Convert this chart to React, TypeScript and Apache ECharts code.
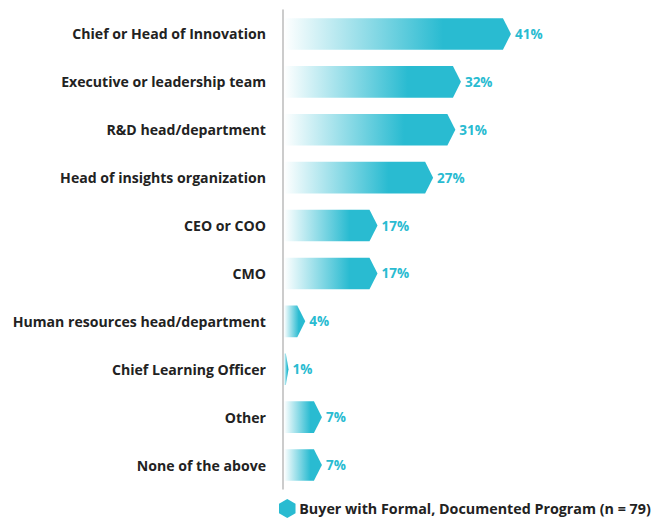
import React, { useEffect, useRef } from "react";
import * as echarts from "echarts";

const categories = [
  "Chief or Head of Innovation",
  "Executive or leadership team",
  "R&D head/department",
  "Head of insights organization",
  "CEO or COO",
  "CMO",
  "Human resources head/department",
  "Chief Learning Officer",
  "Other",
  "None of the above",
];
const values = [41, 32, 31, 27, 17, 17, 4, 1, 7, 7];
const seriesName = "Buyer with Formal, Documented Program (n = 79)";

const TEAL = "#29BBD1";
const FONT = "'Open Sans', Lato, sans-serif";

export default function App() {
  const ref = useRef<HTMLDivElement>(null);
  useEffect(() => {
    if (!ref.current) return;
    const chart = echarts.init(ref.current, undefined, { renderer: "svg" });
    const data = values.map((v, i) => [v, i]);
    chart.setOption({
      animation: false,
      textStyle: { fontFamily: FONT },
      grid: { left: 283, right: 94, top: 10, bottom: 29, containLabel: false },
      xAxis: {
        type: "value",
        min: 0,
        max: 50,
        show: false,
      },
      yAxis: {
        type: "category",
        data: categories,
        inverse: true,
        axisLine: { show: true, lineStyle: { color: "#bbbbbb", width: 1.5 } },
        axisTick: { show: false },
        axisLabel: {
          color: "#222222",
          fontWeight: "bold",
          fontSize: 14.1,
          fontFamily: FONT,
          margin: 17,
        },
      },
      legend: {
        top: 499,
        left: 279,
        padding: 0,
        itemWidth: 18,
        itemHeight: 19,
        itemGap: 4,
        data: [
          {
            name: seriesName,
            icon: "path://M5,0 L10,2.9 L10,8.6 L5,11.5 L0,8.6 L0,2.9 Z",
          },
        ],
        textStyle: {
          color: "#222222",
          fontWeight: "bold",
          fontSize: 14.3,
          fontFamily: FONT,
          padding: [0, 0, 0, -2],
        },
      },
      series: [
        {
          type: "custom",
          name: seriesName,
          itemStyle: { color: TEAL },
          encode: { x: 0, y: 1 },
          data,
          renderItem: (params: any, api: any) => {
            const v = api.value(0);
            const idx = api.value(1);
            const s = api.coord([0, idx]);
            const e = api.coord([v, idx]);
            const h = api.size([0, 1])[1] * 0.66;
            const x0 = s[0] + 1;
            const x1 = e[0];
            const y = s[1];
            const w = x1 - x0;
            const tip = Math.min(8, w * 0.6);
            const pts = [
              [x0, y - h / 2],
              [x1 - tip, y - h / 2],
              [x1, y],
              [x1 - tip, y + h / 2],
              [x0, y + h / 2],
            ];
            return {
              type: "group",
              children: [
                {
                  type: "polygon",
                  shape: { points: pts },
                  style: {
                    fill: new echarts.graphic.LinearGradient(0, 0, 1, 0, [
                      { offset: 0, color: "rgba(255,255,255,1)" },
                      { offset: 0.7, color: TEAL },
                      { offset: 1, color: TEAL },
                    ]),
                  },
                },
                {
                  type: "text",
                  style: {
                    x: x1 + 4,
                    y: y,
                    text: v + "%",
                    fill: TEAL,
                    font: `bold 13.5px ${FONT}`,
                    verticalAlign: "middle",
                    align: "left",
                  },
                },
              ],
            };
          },
        },
      ],
    });
    return () => chart.dispose();
  }, []);
  return <div ref={ref} style={{ width: 655, height: 518, position: "absolute", left: 0, top: 0 }} />;
}
